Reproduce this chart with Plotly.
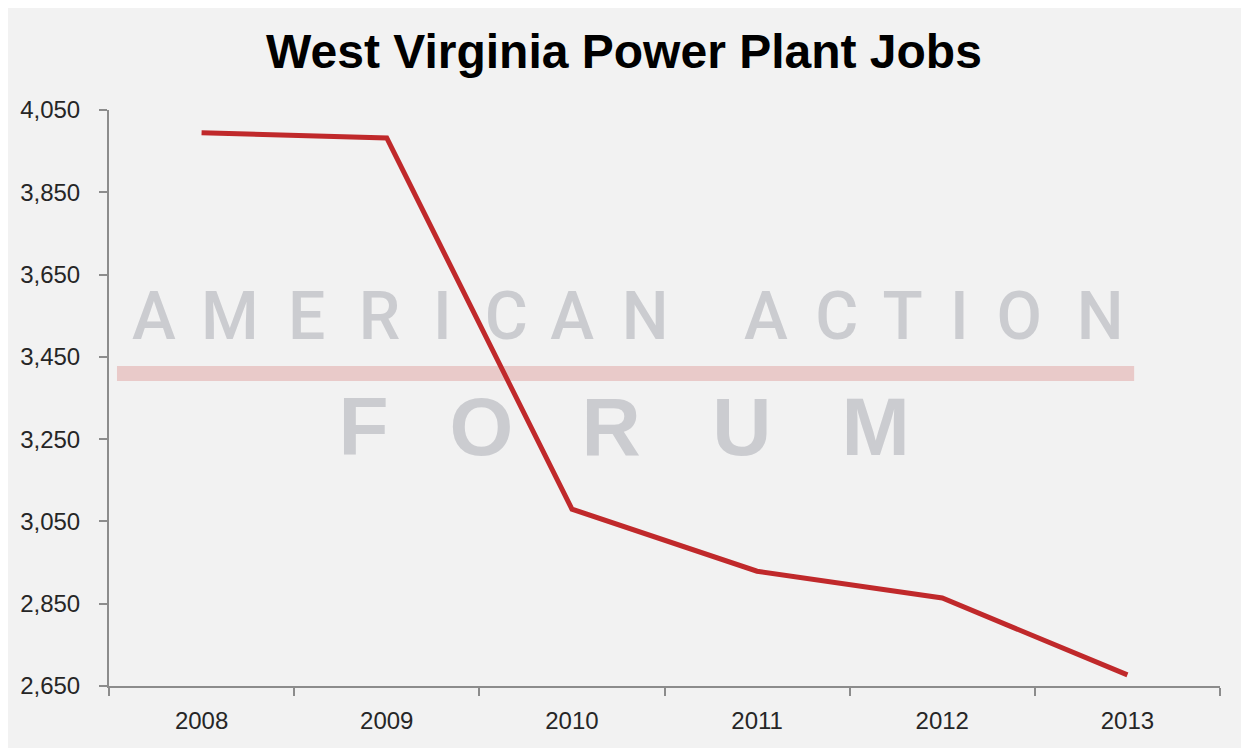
import plotly.graph_objects as go

years = ["2008", "2009", "2010", "2011", "2012", "2013"]
jobs = [3995, 3982, 3080, 2929, 2864, 2677]

y_ticks = [2650, 2850, 3050, 3250, 3450, 3650, 3850, 4050]

# page offset of the figure (browser body margin)
OFF = 8
# target plot-area geometry in window pixels
L, R, T, B = 107, 1220, 110, 686
WF, HF = 1249, 748  # figure size
YMIN, YMAX = 2650, 4050
XMIN, XMAX = -0.5, len(years) - 0.5


def px_to_x(px):
    return XMIN + (px - L) / (R - L) * (XMAX - XMIN)


def py_to_y(py):
    return YMAX - (py - T) / (B - T) * (YMAX - YMIN)


def px_to_paper(px):
    return (px - L) / (R - L)


def py_to_paper(py):
    return (B - py) / (B - T)


wm_top = "AMERICAN ACTION"
wm_top_x = [152, 228, 305, 378, 441, 505, 571, 644, None, 765, 836, 902, 959, 1019, 1100]
wm_bot = "FORUM"
wm_bot_x = [362, 480, 610, 741, 875]

fig = go.Figure()

# watermark text (drawn beneath the data line)
tx, ty, tt = [], [], []
for ch, px in zip(wm_top, wm_top_x):
    if px is None:
        continue
    tx.append(px_to_x(px)); ty.append(py_to_y(322)); tt.append(ch)
fig.add_trace(go.Scatter(
    x=tx, y=ty, text=tt, mode="text", hoverinfo="skip", showlegend=False,
    textposition="middle center",
    textfont=dict(family="Roboto", size=66, color="#cbccd0", weight=500),
))
bx = [px_to_x(p) for p in wm_bot_x]
by = [py_to_y(434)] * len(wm_bot_x)
fig.add_trace(go.Scatter(
    x=bx, y=by, text=list(wm_bot), mode="text", hoverinfo="skip", showlegend=False,
    textposition="middle center",
    textfont=dict(family="Liberation Sans", size=82, color="#cbccd0", weight="bold"),
))

fig.add_trace(go.Scatter(
    x=list(range(len(years))), y=jobs, mode="lines",
    line=dict(color="#c0292b", width=5),
    showlegend=False,
))

fig.add_shape(
    type="rect", xref="paper", yref="paper", layer="below",
    x0=px_to_paper(115), x1=px_to_paper(1134),
    y0=py_to_paper(381), y1=py_to_paper(366),
    fillcolor="#e9cac9", line=dict(width=0),
)

fig.update_layout(
    width=WF, height=HF,
    margin=dict(l=L - OFF, r=OFF + WF - R, t=T - OFF, b=OFF + HF - B),
    paper_bgcolor="#f2f2f2", plot_bgcolor="#f2f2f2",
    title=dict(
        text="<b>West Virginia Power Plant Jobs</b>",
        x=(624 - OFF) / WF, xanchor="center", y=1 - (51 - OFF) / HF, yanchor="middle",
        font=dict(family="Liberation Sans", size=48, color="#000000"),
    ),
    font=dict(family="Liberation Sans", size=24, color="#262626"),
)

fig.update_xaxes(
    range=[XMIN, XMAX], tickmode="array",
    tickvals=list(range(len(years))), ticktext=years,
    ticks="", showgrid=False, zeroline=False,
    showline=True, linecolor="#8c8c8c", linewidth=2,
    ticklabelstandoff=12,
    minor=dict(tickmode="array", tickvals=[i - 0.5 for i in range(len(years) + 1)],
               ticks="outside", ticklen=8, tickwidth=2, tickcolor="#8c8c8c", showgrid=False),
    fixedrange=True,
)
fig.update_yaxes(
    range=[YMIN, YMAX], tickmode="array", tickvals=y_ticks,
    ticktext=[f"{v:,}" for v in y_ticks],
    ticks="outside", ticklen=8, tickwidth=2, tickcolor="#8c8c8c",
    showgrid=False, zeroline=False,
    showline=True, linecolor="#8c8c8c", linewidth=2,
    ticklabelstandoff=14,
    fixedrange=True,
)

fig.write_html("out.html")
